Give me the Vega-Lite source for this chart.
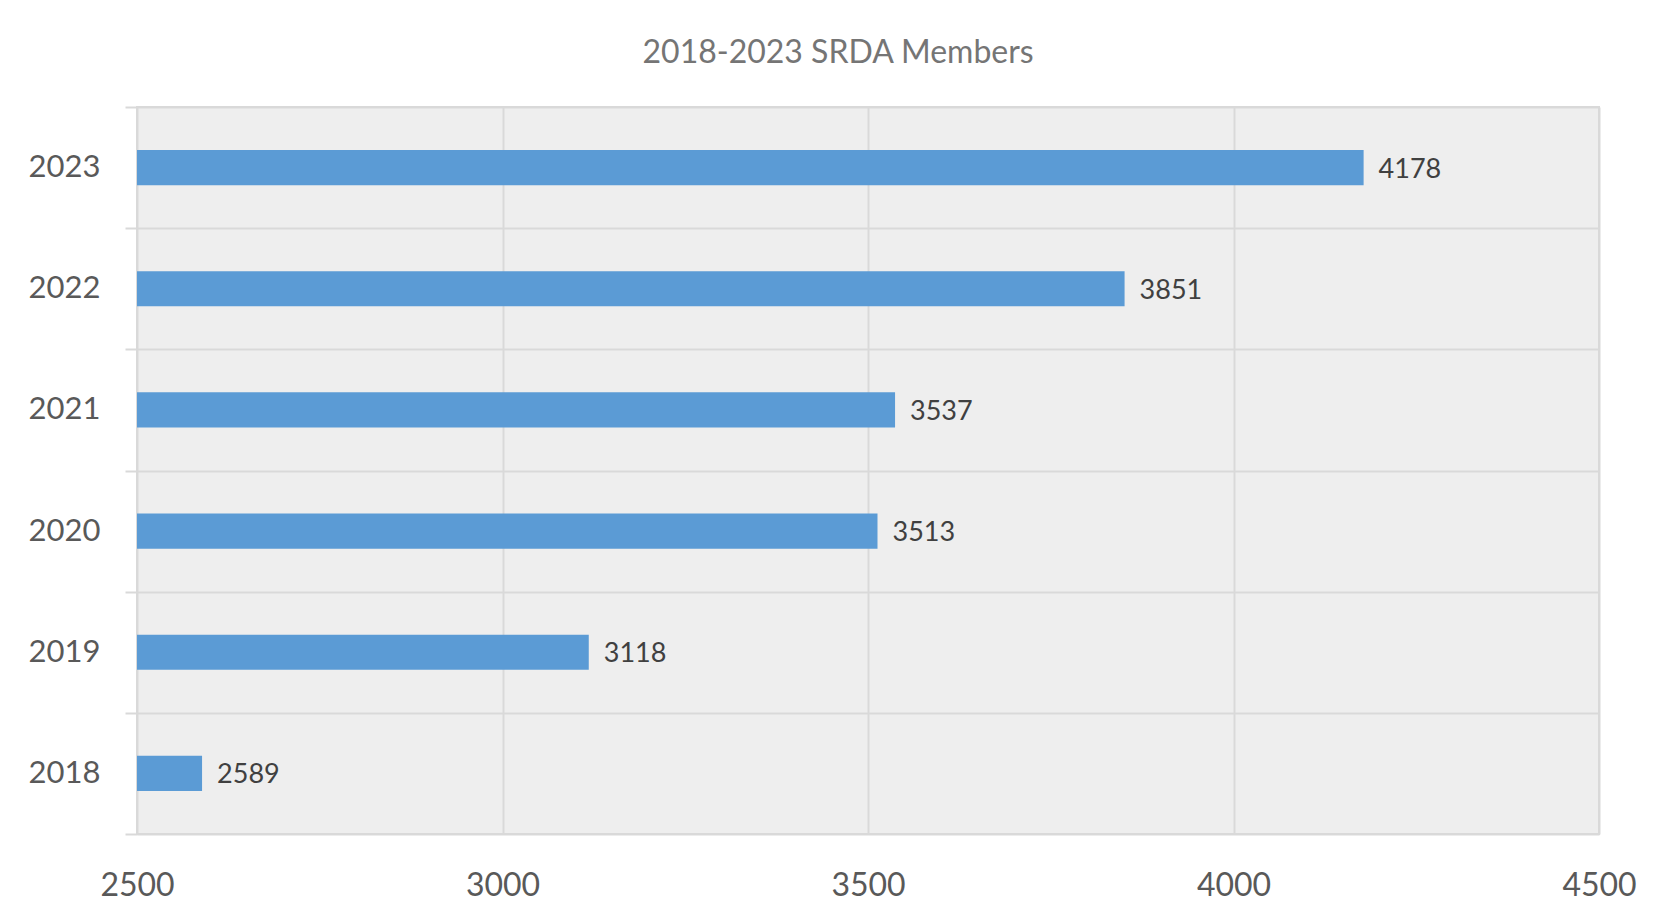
{
  "$schema": "https://vega.github.io/schema/vega-lite/v6.json",
  "autosize": {"type": "none"},
  "width": 1462,
  "height": 727,
  "padding": {"left": 137, "top": 107, "right": 68, "bottom": 85},
  "background": "#ffffff",
  "title": {
    "text": "2018-2023 SRDA Members",
    "anchor": "middle",
    "frame": "bounds",
    "dx": 6,
    "offset": 21,
    "font": "Lato",
    "fontSize": 32,
    "fontWeight": "normal",
    "color": "#757575"
  },
  "config": {
    "view": {"fill": "#eeeeee", "stroke": "#d9d9d9", "strokeWidth": 2},
    "font": "Lato"
  },
  "data": {
    "values": [
      {"year": "2023", "members": 4178},
      {"year": "2022", "members": 3851},
      {"year": "2021", "members": 3537},
      {"year": "2020", "members": 3513},
      {"year": "2019", "members": 3118},
      {"year": "2018", "members": 2589}
    ]
  },
  "encoding": {
    "y": {
      "field": "year",
      "type": "ordinal",
      "sort": "descending",
      "scale": {"paddingInner": 0, "paddingOuter": 0},
      "axis": {
        "title": null,
        "domain": false,
        "ticks": true,
        "tickSize": 12,
        "tickColor": "#d9d9d9",
        "tickWidth": 2,
        "tickBand": "extent",
        "grid": true,
        "gridColor": "#d9d9d9",
        "gridWidth": 2,
        "labelPadding": 25,
        "labelFont": "Lato",
        "labelFontSize": 31,
        "labelColor": "#595959"
      }
    },
    "x": {
      "field": "members",
      "type": "quantitative",
      "scale": {"domain": [2500, 4500], "zero": false, "nice": false},
      "axis": {
        "title": null,
        "values": [2500, 3000, 3500, 4000, 4500],
        "format": "d",
        "domain": false,
        "ticks": false,
        "grid": true,
        "gridColor": "#d9d9d9",
        "gridWidth": 2,
        "labelPadding": 36,
        "labelBaseline": "top",
        "labelFont": "Lato",
        "labelFontSize": 32,
        "labelColor": "#595959",
        "labelFlush": false,
        "labelOverlap": false
      }
    }
  },
  "layer": [
    {
      "mark": {"type": "bar", "color": "#5b9bd5", "height": {"band": 0.29}},
      "encoding": {"x2": {"datum": 2500}}
    },
    {
      "mark": {
        "type": "text",
        "align": "left",
        "baseline": "middle",
        "dx": 15,
        "dy": 2,
        "font": "Lato",
        "fontSize": 27,
        "color": "#404040"
      },
      "encoding": {"text": {"field": "members", "type": "quantitative", "format": "d"}}
    }
  ]
}
